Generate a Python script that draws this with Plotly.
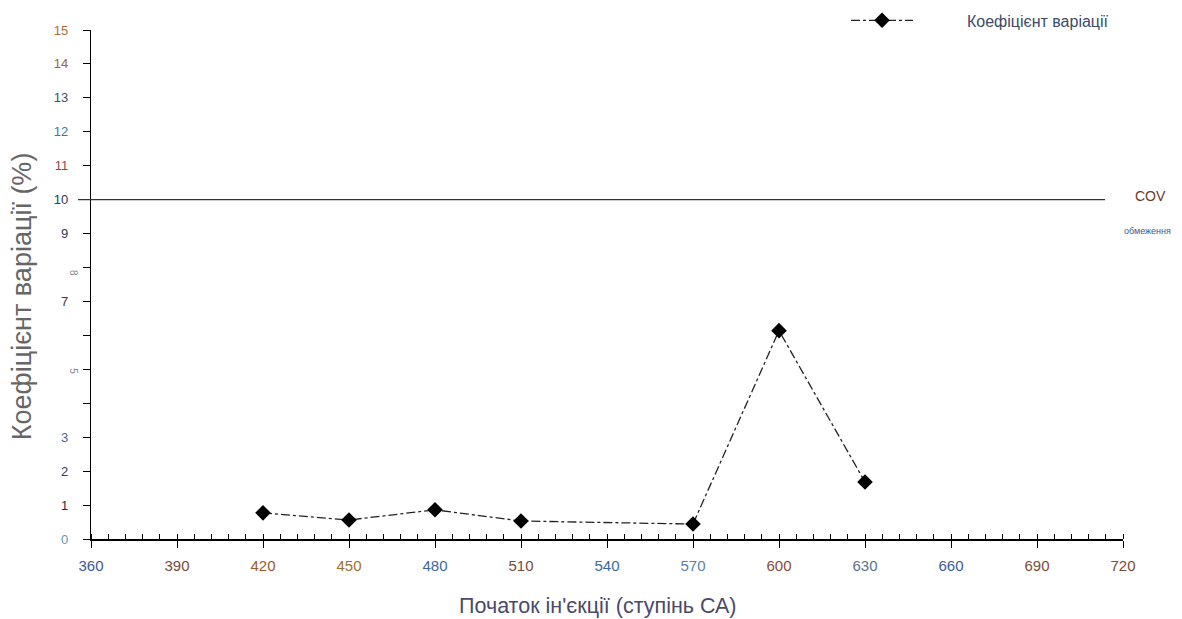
import plotly.graph_objects as go

# Data
x_deg = [420, 450, 480, 510, 570, 600, 630]
cov_pct = [0.77, 0.56, 0.86, 0.53, 0.44, 6.14, 1.68]
cov_limit = 10

x_ticks = [360, 390, 420, 450, 480, 510, 540, 570, 600, 630, 660, 690, 720]
x_tick_colors = ["#3a5a9a", "#7a4a3a", "#9a5a2a", "#a0702a", "#3a6aa0", "#7a4a3a", "#3a6aa0",
                 "#5a80b0", "#8a4a3a", "#5a7090", "#3a5a9a", "#7a4a3a", "#7a4a3a"]
y_ticks = list(range(0, 16))
y_tick_labels = ["0", "1", "2", "3", "", "", "", "7", "", "9", "10", "11", "12", "13", "14", "15"]
y_tick_colors = ["#5a9ac0", "#2a2a3a", "#2a3a6a", "#3a6a9a", "#555", "#555", "#555", "#3a3a4a",
                 "#555", "#2a3a5a", "#2a3a5a", "#8a4a4a", "#3a7aa0", "#3c4f70", "#a0603a", "#b06a3a"]

fig = go.Figure()
fig.add_trace(go.Scatter(
    x=x_deg, y=cov_pct, mode="lines+markers",
    name="\u00a0" * 11 + "Коефіцієнт варіації",
    line=dict(color="#222", width=1.3, dash="dashdot"),
    marker=dict(symbol="diamond", size=12, color="black"),
    cliponaxis=False,
))

fig.add_shape(type="line", xref="paper", yref="y", x0=-0.0126, x1=0.9826,
              y0=cov_limit, y1=cov_limit, line=dict(color="#333", width=1.3))
fig.add_annotation(xref="paper", yref="y", x=1.027, y=cov_limit + 0.1, text="COV",
                   showarrow=False, font=dict(size=14, color="#6a3a2a"), xanchor="center")
fig.add_annotation(xref="paper", yref="y", x=1.0233, y=9.08, text="обмеження",
                   showarrow=False, font=dict(size=9, color="#3a5a9a"), xanchor="center")
# faint rotated labels on y axis
fig.add_annotation(xref="paper", yref="y", x=-0.024, y=7.85, text="8", textangle=90,
                   showarrow=False, font=dict(size=10, color="#888"))
fig.add_annotation(xref="paper", yref="y", x=-0.024, y=4.95, text="5", textangle=90,
                   showarrow=False, font=dict(size=10, color="#888"))
# axis titles
fig.add_annotation(xref="paper", yref="paper", x=0.491, y=-0.1316, text="Початок ін'єкції (ступінь СА)",
                   showarrow=False, xanchor="center", yanchor="middle",
                   font=dict(size=21.5, color="#4a4a6a"))
fig.add_annotation(xref="paper", yref="paper", x=-0.0669, y=0.477, text="Коефіцієнт варіації (%)",
                   showarrow=False, xanchor="center", yanchor="middle", textangle=-90,
                   font=dict(size=27, color="#666"))

fig.update_layout(
    width=1182, height=619,
    margin=dict(l=83, r=67, t=22, b=88, autoexpand=False),
    plot_bgcolor="white", paper_bgcolor="white",
    font=dict(family="Liberation Sans, Arial, sans-serif"),
    showlegend=True,
    legend=dict(x=0.709, y=0.98, xref="container", yref="container",
                xanchor="left", yanchor="middle", itemwidth=62,
                font=dict(size=16, color="#3c4a6a"), bgcolor="rgba(0,0,0,0)"),
    xaxis=dict(
        range=[360, 720], showgrid=False, zeroline=False, automargin=False,
        showline=True, linecolor="black", linewidth=1.6,
        tickvals=x_ticks,
        ticktext=[f'<span style="color:{c}">{v}</span>' for v, c in zip(x_ticks, x_tick_colors)],
        ticks="outside", ticklen=7, tickcolor="black", tickwidth=1.3,
        ticklabelstandoff=5,
        tickfont=dict(size=15),
        minor=dict(dtick=6, tick0=360, ticks="inside", ticklen=5, tickcolor="black", tickwidth=1),
    ),
    yaxis=dict(
        range=[0, 15], showgrid=False, zeroline=False, automargin=False,
        showline=True, linecolor="black", linewidth=1.3,
        tickvals=y_ticks,
        ticktext=[f'<span style="color:{c}">{t}</span>' for t, c in zip(y_tick_labels, y_tick_colors)],
        ticks="outside", ticklen=7, tickcolor="black", tickwidth=1.3,
        ticklabelstandoff=12,
        tickfont=dict(size=13),
    ),
)

fig.write_html("out.html")
